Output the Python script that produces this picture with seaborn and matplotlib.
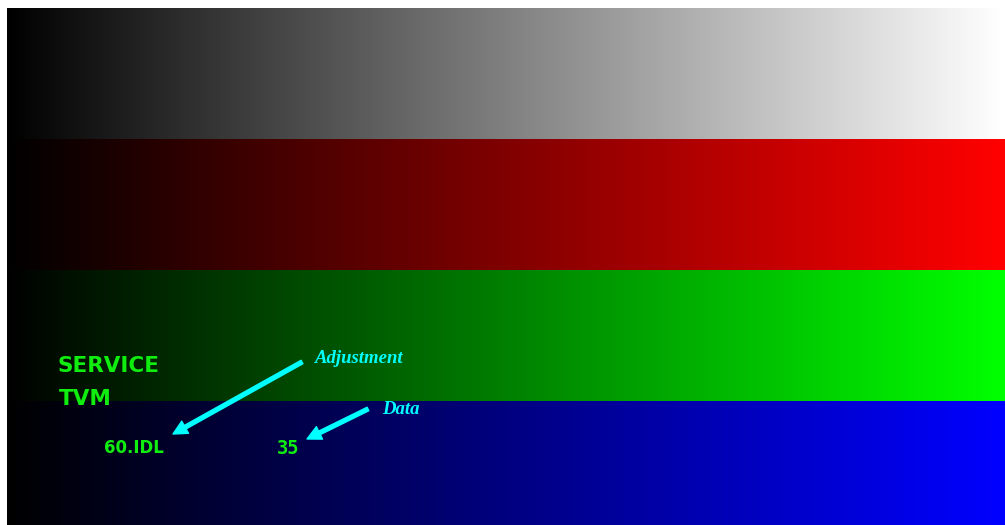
import numpy as np
import matplotlib
matplotlib.use("Agg")
import matplotlib.pyplot as plt
from matplotlib.colors import ListedColormap
import seaborn as sns

# ---- data ----
band_names = ["gray", "red", "green", "blue"]
band_colors = [(1.0, 1.0, 1.0), (1.0, 0.0, 0.0), (0.0, 1.0, 0.0), (0.0, 0.0, 1.0)]
n_steps = 256
title_lines = ["SERVICE", "TVM"]
mode_label = "60.IDL"
value_label = "35"
arrow_labels = ["Adjustment", "Data"]

W, H = 1005, 525

sns.set_theme(style="white")

# build a combined colormap: black -> band colour for each band
ramp = np.linspace(0, 1, n_steps)
cols = []
for c in band_colors:
    for t in ramp:
        cols.append((c[0] * t, c[1] * t, c[2] * t))
cmap = ListedColormap(cols)

data = np.array([[b * n_steps + i for i in range(n_steps)] for b in range(len(band_names))], dtype=float)

fig = plt.figure(figsize=(W / 100, H / 100), dpi=100, facecolor="white")
top_px, band_h = 8, 131
total_h = band_h * len(band_names)
ax = fig.add_axes([7 / W, 1 - (top_px + total_h) / H, (W - 7) / W, total_h / H])
sns.heatmap(data, ax=ax, cmap=cmap, vmin=-0.5, vmax=len(band_names) * n_steps - 0.5,
            cbar=False, xticklabels=False, yticklabels=False, rasterized=True)
ax.set_axis_off()


def fp(x, y):
    return (x / W, 1 - y / H)


green = "#10ee10"
cyan = "#00ffff"

fig.text(*fp(57, 372), title_lines[0], color=green, fontsize=15.5, fontweight="bold",
         family="DejaVu Sans", ha="left", va="baseline")
fig.text(*fp(59, 405), title_lines[1], color=green, fontsize=15.5, fontweight="bold",
         family="DejaVu Sans", ha="left", va="baseline")
fig.text(*fp(104, 453), mode_label, color=green, fontsize=12, fontweight="bold",
         family="DejaVu Sans", ha="left", va="baseline")
fig.text(*fp(277, 454), value_label, color=green, fontsize=13.5, fontweight="bold",
         family="DejaVu Sans Mono", ha="left", va="baseline")

fig.text(*fp(315, 363), arrow_labels[0], color=cyan, fontsize=13.5, fontweight="bold",
         style="italic", family="Liberation Serif", ha="left", va="baseline")
fig.text(*fp(382, 414), arrow_labels[1], color=cyan, fontsize=13.5, fontweight="bold",
         style="italic", family="Liberation Serif", ha="left", va="baseline")

arrow_kw = dict(facecolor=cyan, edgecolor=cyan, width=2.8, headwidth=10, headlength=10, shrink=0)
fig.add_artist(plt.Annotation("", xy=fp(173, 434), xytext=fp(302, 362),
                              xycoords="figure fraction", textcoords="figure fraction",
                              arrowprops=arrow_kw))
fig.add_artist(plt.Annotation("", xy=fp(307, 439), xytext=fp(368, 409),
                              xycoords="figure fraction", textcoords="figure fraction",
                              arrowprops=arrow_kw))

fig.savefig("out.png", dpi=100, facecolor="white")
